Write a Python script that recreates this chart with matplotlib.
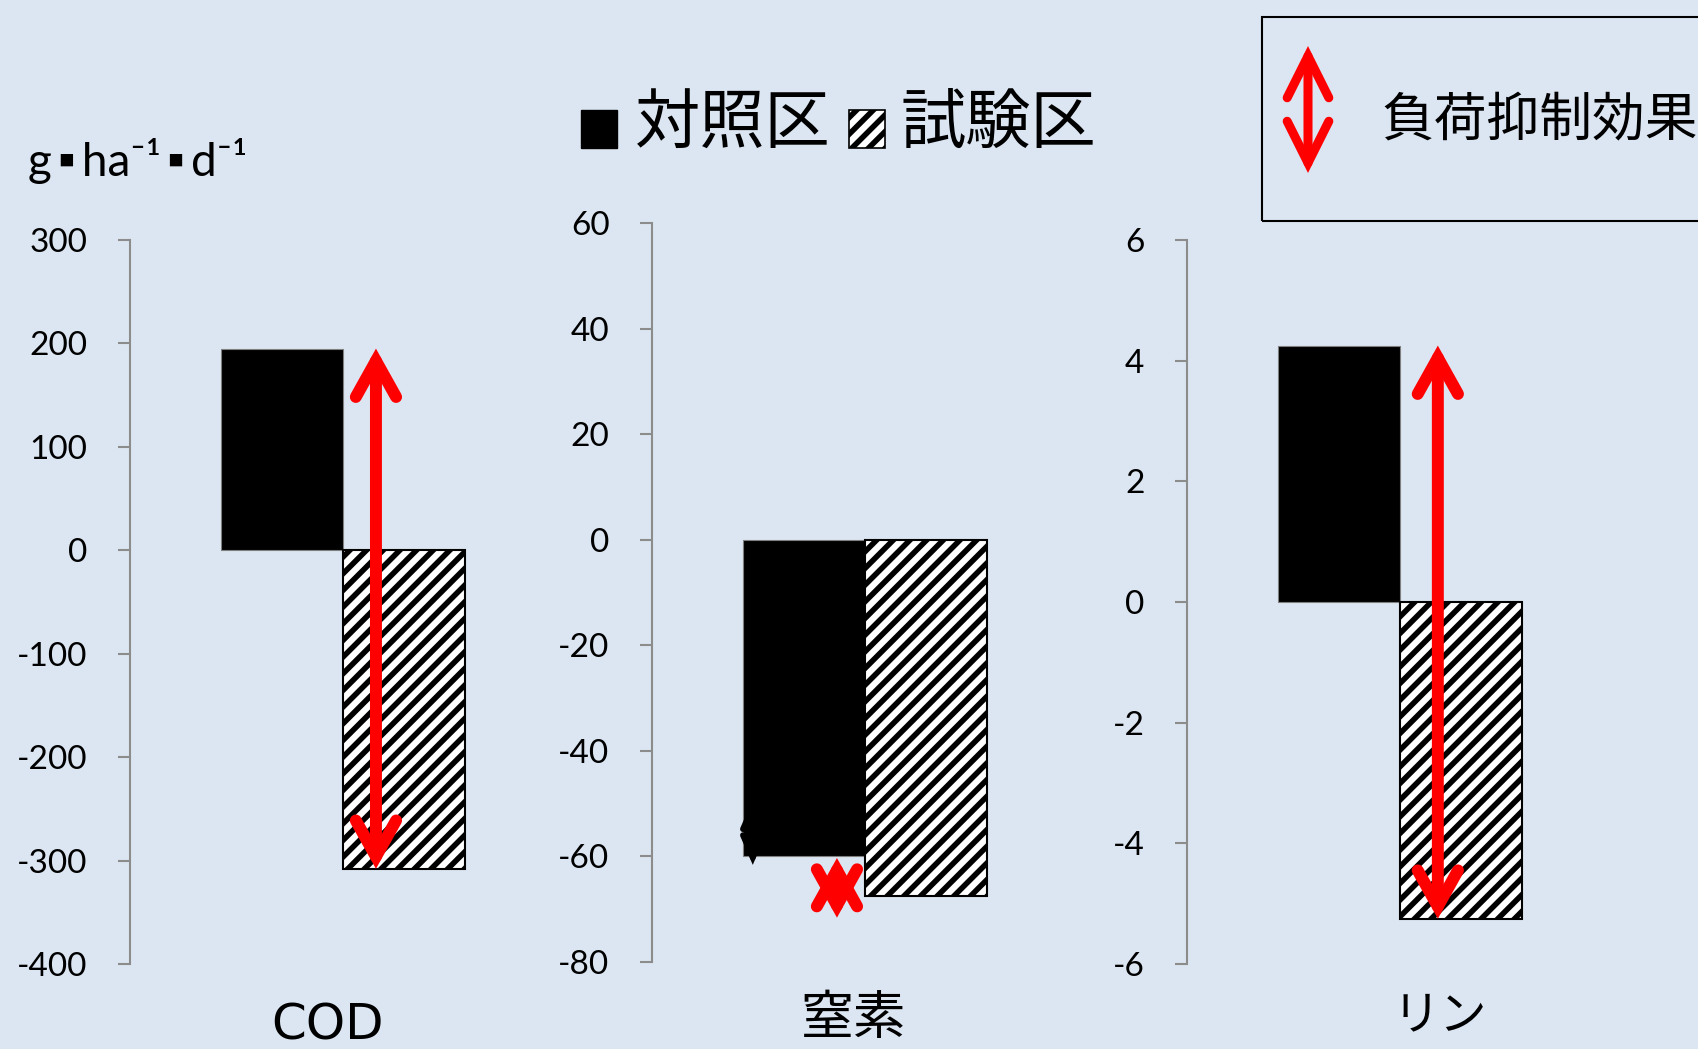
import matplotlib.pyplot as plt
from matplotlib.patches import Rectangle, FancyArrowPatch, ArrowStyle

# Data
categories = ['COD', '窒素', 'リン']
control = [195, -60, 4.25]      # 対照区
test = [-308, -67.5, -5.25]     # 試験区
ylims = [(-400, 300), (-80, 60), (-6, 6)]
ytick_steps = [100, 20, 2]
legend_labels = ['対照区', '試験区']
effect_label = '負荷抑制効果'
unit_label = 'g\u2009▪\u2009ha⁻¹\u2009▪\u2009d⁻¹'

# arrows per panel: (x position in bar units, start value, end value, colour, size)
arrows = [
    [(0.77, control[0], test[0], 'red', 'big')],
    [(-0.42, -49.2, -61.6, 'black', 'small'), (0.27, -60.3, -71.6, 'red', 'big')],
    [(0.81, control[2], test[2], 'red', 'big')],
]

plt.rcParams['axes.unicode_minus'] = False
plt.rcParams['hatch.linewidth'] = 4
plt.rcParams['hatch.color'] = 'black'

BG = '#dce6f2'
W, H = 1699, 1049
fig = plt.figure(figsize=(W / 100, H / 100), dpi=100, facecolor=BG)

def fx(px):
    return px / W

def fy(py):
    return 1 - py / H

# panel layout (pixels)
spine_x = [130, 652, 1187]
top_y = [240, 223, 240]
bot_y = [964, 962, 964]
bar_px = 122
left_off = 1.246

styles = {
    'big': (ArrowStyle('<->', head_length=26, head_width=14.5), 8.6),
    'small': (ArrowStyle('<->', head_length=16, head_width=7), 4.3),
}

for i in range(3):
    ax = fig.add_axes([fx(spine_x[i]), fy(bot_y[i]), fx(4 * bar_px),
                       (bot_y[i] - top_y[i]) / H])
    ax.set_facecolor('none')
    ax.bar(0, control[i], width=1, color='black', edgecolor='#7f7f7f', linewidth=0.8)
    ax.bar(1, test[i], width=1, color='white', edgecolor='black', linewidth=1.5,
           hatch='//')
    ax.set_xlim(-left_off, 4 - left_off)
    ax.set_ylim(*ylims[i])
    lo, hi = ylims[i]
    ticks = list(range(lo, hi + 1, ytick_steps[i]))
    ax.set_yticks(ticks)
    ax.set_yticklabels([str(t) for t in ticks], fontsize=24, family='Lato')
    ax.tick_params(axis='y', length=8.6, width=1.5, color='#8c8c8c', pad=22)
    ax.set_xticks([])
    for s in ['top', 'right', 'bottom']:
        ax.spines[s].set_visible(False)
    ax.spines['left'].set_color('#8c8c8c')
    ax.spines['left'].set_linewidth(1.5)

    for x, y0, y1, c, size in arrows[i]:
        st, lw = styles[size]
        ax.add_patch(FancyArrowPatch((x, y0), (x, y1), arrowstyle=st,
                                     mutation_scale=1, lw=lw, color=c,
                                     capstyle='round', joinstyle='miter',
                                     shrinkA=0, shrinkB=0, zorder=5))

# category labels
label_pos = [(328, 1025), (854, 1018), (1440, 1016)]
label_size = [36, 38, 34]
label_font = ['DejaVu Sans', 'Noto Sans CJK JP', 'Noto Sans CJK JP']
for (px, py), name, fs, fam in zip(label_pos, categories, label_size, label_font):
    fig.text(fx(px), fy(py), name, fontsize=fs, ha='center', va='center', family=fam)

# unit label
fig.text(fx(28), fy(176), unit_label, fontsize=33, ha='left', va='baseline',
         family=['Lato', 'DejaVu Sans'])

# top legend
fig.add_artist(Rectangle((fx(581), fy(148)), fx(36), 38 / H, transform=fig.transFigure,
                         facecolor='black', edgecolor='black', lw=1))
fig.add_artist(Rectangle((fx(849), fy(148)), fx(36), 38 / H, transform=fig.transFigure,
                         facecolor='white', edgecolor='black', lw=1.2, hatch='//'))
fig.text(fx(635), fy(126), legend_labels[0], fontsize=47, ha='left', va='center',
         family='Noto Sans CJK JP')
fig.text(fx(901), fy(126), legend_labels[1], fontsize=47, ha='left', va='center',
         family='Noto Sans CJK JP')

# effect legend box
fig.add_artist(Rectangle((fx(1262), fy(221)), fx(480), 204 / H, transform=fig.transFigure,
                         facecolor='none', edgecolor='black', lw=1.5))
fig.add_artist(FancyArrowPatch((fx(1308), fy(46)), (fx(1308), fy(173)),
                               transform=fig.transFigure,
                               arrowstyle=ArrowStyle('<->', head_length=30, head_width=15),
                               mutation_scale=1, lw=6.5, color='red',
                               capstyle='round', joinstyle='miter',
                               shrinkA=0, shrinkB=0))
fig.text(fx(1381), fy(120), effect_label, fontsize=38, ha='left', va='center',
         family='Noto Sans CJK JP')

fig.savefig('out.png', dpi=100, facecolor=BG)
